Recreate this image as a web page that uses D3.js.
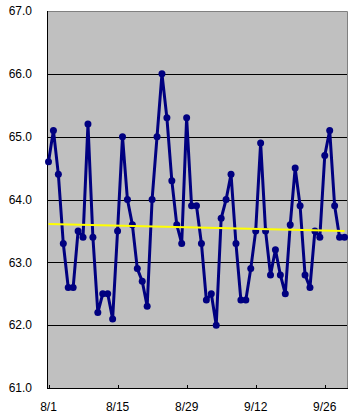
<!DOCTYPE html>
<html><head><meta charset="utf-8">
<script src="https://cdn.jsdelivr.net/npm/d3@7"></script>
<style>html,body{margin:0;padding:0;background:#fff;}svg{display:block;}</style>
</head><body>
<script>
const values = [64.6,65.1,64.4,63.3,62.6,62.6,63.5,63.4,65.2,63.4,
62.2,62.5,62.5,62.1,63.5,65.0,64.0,63.6,62.9,62.7,
62.3,64.0,65.0,66.0,65.3,64.3,63.6,63.3,65.3,63.9,
63.9,63.3,62.4,62.5,62.0,63.7,64.0,64.4,63.3,62.4,
62.4,62.9,63.5,64.9,63.5,62.8,63.2,62.8,62.5,63.6,
64.5,63.9,62.8,62.6,63.5,63.4,64.7,65.1,63.9,63.4,63.4];
const dates = d3.utcDay.range(new Date(Date.UTC(2000,7,1)), new Date(Date.UTC(2000,9,1)));
const trendValues = [63.61, 63.50];
const yTicks = [61,62,63,64,65,66,67];
const xTickLabels = ["8/1","8/15","8/29","9/12","9/26"];
const xTickDates = [Date.UTC(2000,7,1),Date.UTC(2000,7,15),Date.UTC(2000,7,29),Date.UTC(2000,8,12),Date.UTC(2000,8,26)].map(d=>new Date(d));

const W=360,H=416;
const L=47,R=347,T=11,B=388;
const svg=d3.select("body").append("svg").attr("width",W).attr("height",H);
const x=d3.scaleUtc().domain([dates[0],dates[dates.length-1]]).range([48.5,344.5]);
const y=d3.scaleLinear().domain([61,67]).range([B,T]);

svg.append("rect").attr("x",L).attr("y",T).attr("width",R-L).attr("height",B-T).attr("fill","#C0C0C0");
// gridlines
svg.append("g").selectAll("line").data(yTicks.slice(1,-1)).join("line")
 .attr("x1",L).attr("x2",R).attr("y1",d=>Math.round(y(d))+0.5).attr("y2",d=>Math.round(y(d))+0.5)
 .attr("stroke","#000").attr("stroke-width",1);
// border top/right
svg.append("path").attr("d",`M${L},${T+0.5}H${R+0.5}V${B}`).attr("fill","none").attr("stroke","#808080");
// axes lines
svg.append("line").attr("x1",L+0.5).attr("x2",L+0.5).attr("y1",T).attr("y2",B+0.5).attr("stroke","#000");
svg.append("line").attr("x1",L).attr("x2",R+1).attr("y1",B+0.5).attr("y2",B+0.5).attr("stroke","#000");

// y labels
svg.append("g").selectAll("text").data(yTicks).join("text")
 .attr("x",32).attr("y",d=>y(d)).attr("dy","0.35em").attr("text-anchor","end")
 .attr("font-family","'Liberation Sans',Arial,sans-serif").attr("font-size",12).attr("fill","#000")
 .text(d=>d.toFixed(1));
// x ticks (inward)
svg.append("g").selectAll("line").data(xTickDates).join("line")
 .attr("x1",d=>Math.round(x(d))+0.5).attr("x2",d=>Math.round(x(d))+0.5).attr("y1",B-3).attr("y2",B)
 .attr("stroke","#000");
svg.append("g").selectAll("text").data(xTickDates).join("text")
 .attr("x",d=>x(d)).attr("y",411).attr("text-anchor","middle")
 .attr("font-family","'Liberation Sans',Arial,sans-serif").attr("font-size",12).attr("fill","#000")
 .text((d,i)=>xTickLabels[i]);

const data=values.map((v,i)=>({d:dates[i],v}));
svg.append("path").datum(data).attr("fill","none").attr("stroke","#000080").attr("stroke-width",3)
 .attr("stroke-linejoin","round")
 .attr("d",d3.line().x(d=>x(d.d)).y(d=>y(d.v)));
svg.append("g").selectAll("circle").data(data).join("circle")
 .attr("cx",d=>x(d.d)).attr("cy",d=>y(d.v)).attr("r",3.5).attr("fill","#000080");
// trend line
svg.append("line").attr("x1",x(dates[0])).attr("x2",x(dates[dates.length-1]))
 .attr("y1",y(trendValues[0])).attr("y2",y(trendValues[1]))
 .attr("stroke","#FFFF00").attr("stroke-width",2);
</script>
</body></html>
